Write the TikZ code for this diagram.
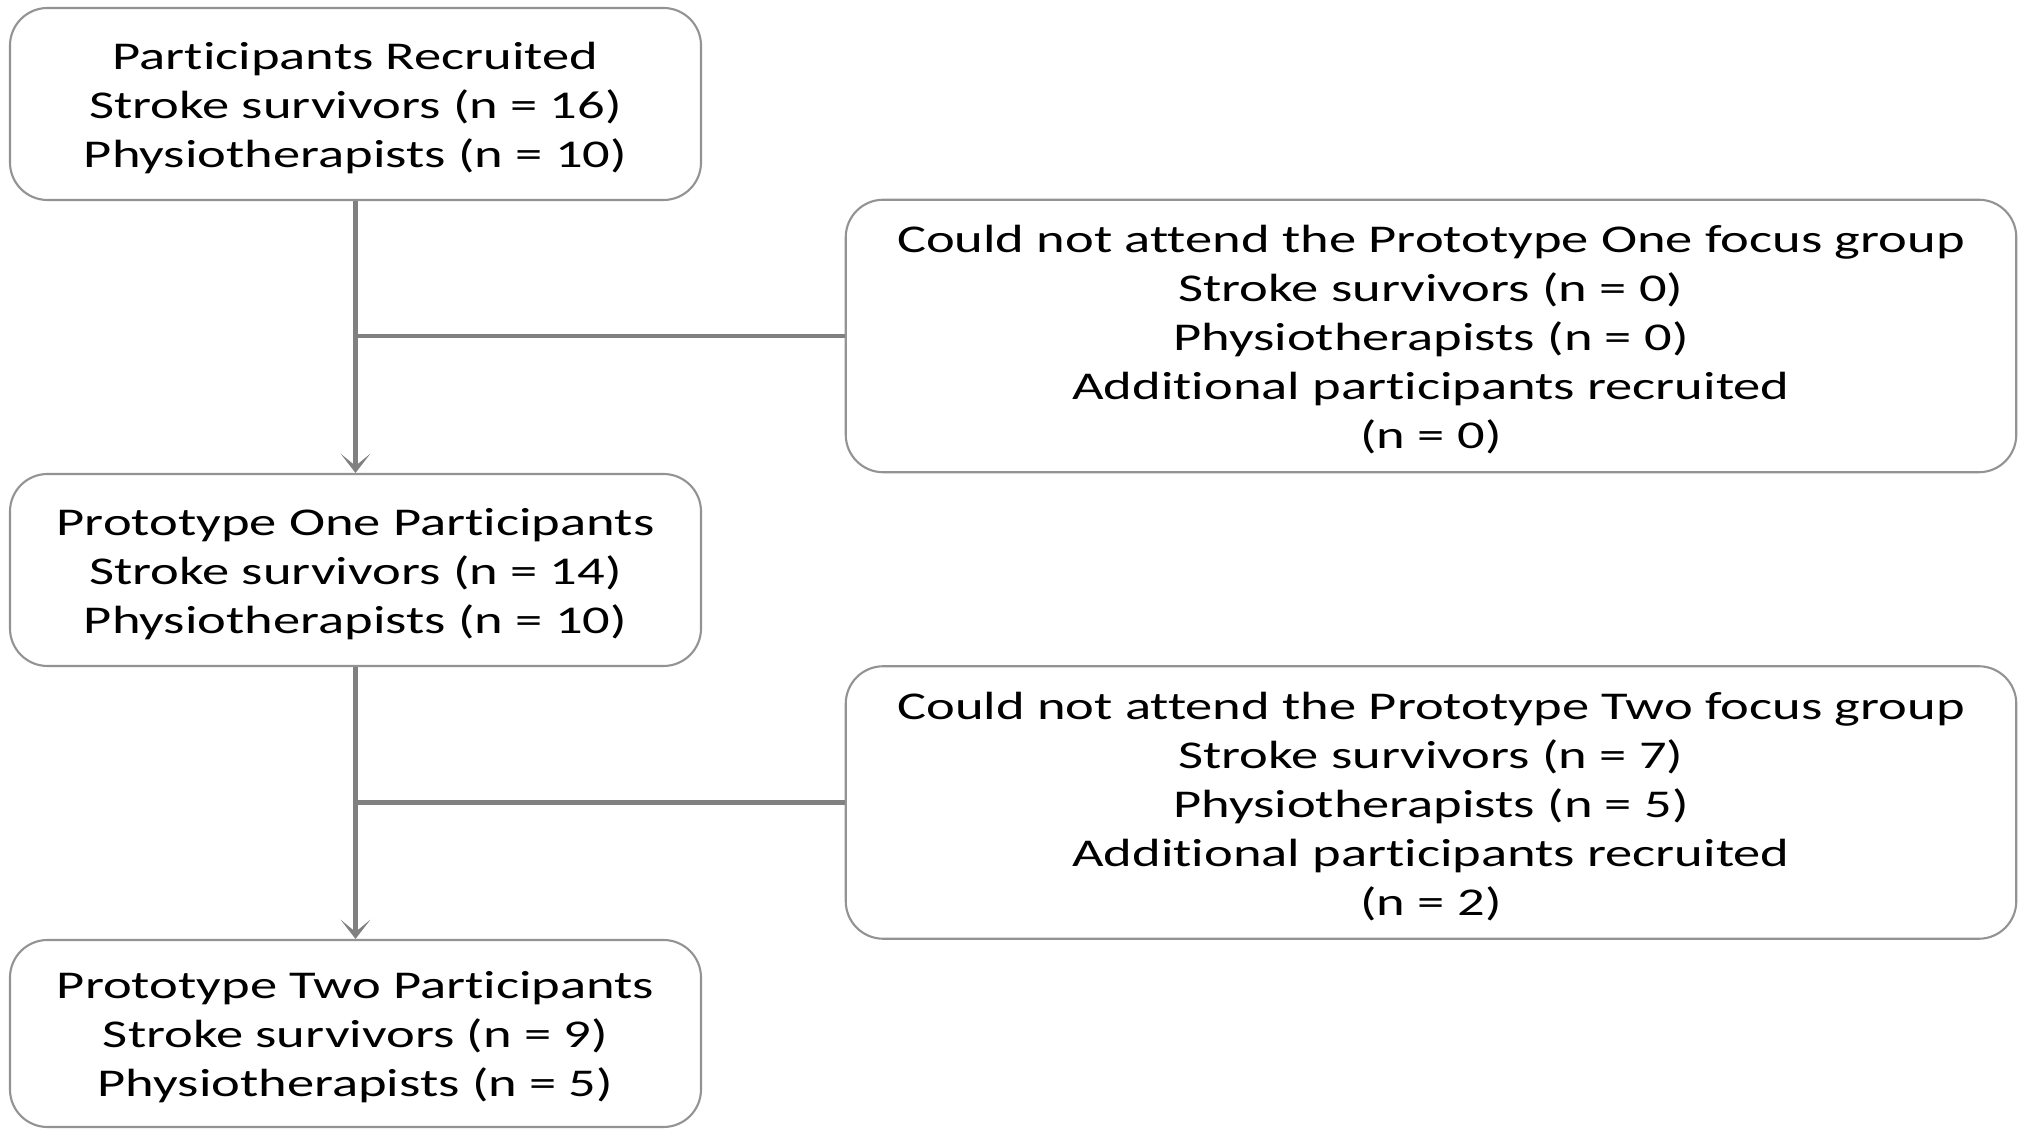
\documentclass[tikz,border=0pt]{standalone}
\usepackage{fontspec}
\setmainfont{Carlito}[FakeStretch=1.385,Ligatures=NoCommon]
\usetikzlibrary{arrows.meta}

% Stuetze fuer die erste Zeile
\newcommand{\ersteZeile}{\rule{0pt}{20pt}}

\begin{document}
\begin{tikzpicture}[>={Stealth[length=11pt,width=17pt,inset=7pt]},
  kasten/.style={draw=gray!85,line width=1.2pt,rounded corners=0.75cm,
    align=center,inner sep=0pt,minimum width=13.82cm,
    font=\fontsize{22.4pt}{27.9pt}\selectfont},
  ausfall/.style={kasten,minimum width=23.41cm,minimum height=5.45cm},
  linie/.style={draw=black!50,line width=2.3pt}]

\useasboundingbox (0,0) rectangle (40.48,22.58);

% Kaesten links
\node[kasten,minimum height=3.84cm] (rec) at (7.11,20.5)
  {\ersteZeile Participants Recruited\\Stroke survivors (n = 16)\\Physiotherapists (n = 10)};
\node[kasten,minimum height=3.84cm] (one) at (7.11,11.18)
  {\ersteZeile Prototype One Participants\\Stroke survivors (n = 14)\\Physiotherapists (n = 10)};
\node[kasten,minimum height=3.74cm] (two) at (7.11,1.91)
  {\ersteZeile Prototype Two Participants\\Stroke survivors (n = 9)\\Physiotherapists (n = 5)};

% Kaesten rechts
\node[ausfall] (abs1) at (28.62,15.86)
  {\ersteZeile Could not attend the Prototype One focus group\\Stroke survivors (n = 0)\\Physiotherapists (n = 0)\\Additional participants recruited\\(n = 0)};
\node[ausfall] (abs2) at (28.62,6.53)
  {\ersteZeile Could not attend the Prototype Two focus group\\Stroke survivors (n = 7)\\Physiotherapists (n = 5)\\Additional participants recruited\\(n = 2)};

% Pfeile
\draw[linie,->] (rec) -- (one);
\draw[linie,->] (one) -- (two);

% Abzweigungen
\draw[linie] (abs1.west) -- (abs1.west -| rec.south);
\draw[linie] (abs2.west) -- (abs2.west -| one.south);

\end{tikzpicture}
\end{document}
